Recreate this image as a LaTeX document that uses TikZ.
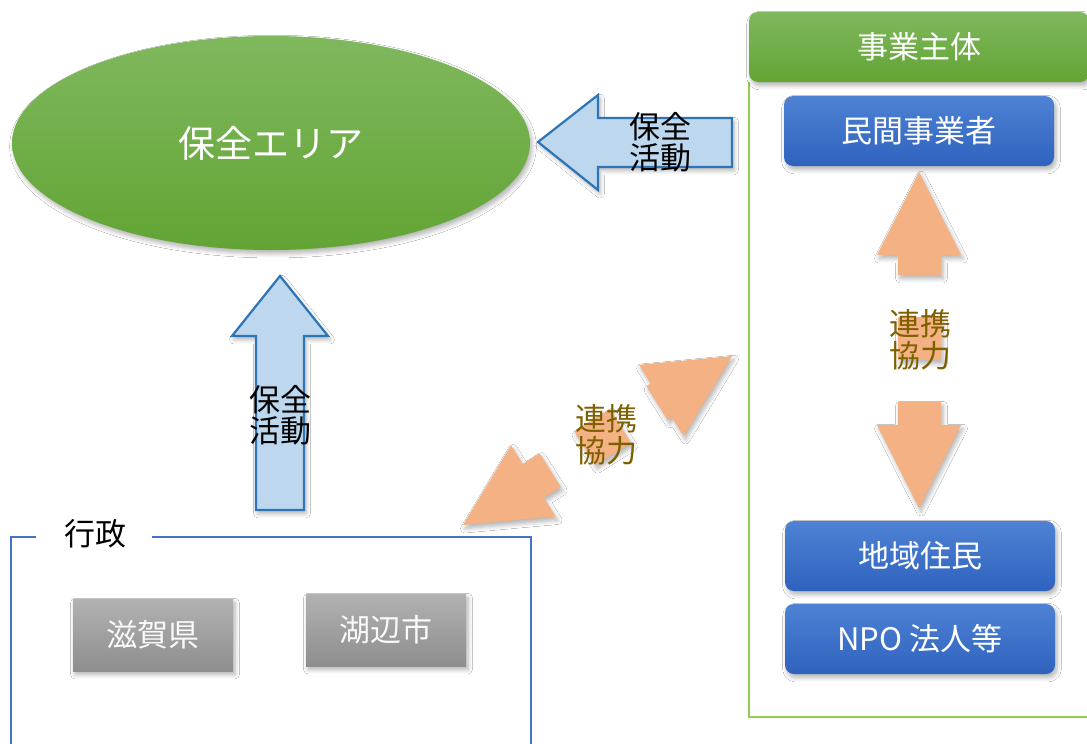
\documentclass[tikz,border=0pt]{standalone}
\usepackage{fontspec}
\setmainfont{Noto Sans CJK JP}
\usetikzlibrary{shapes.geometric,shadows.blur}
\definecolor{gtop}{HTML}{80B85E}
\definecolor{gbot}{HTML}{62A434}
\definecolor{btop}{HTML}{4E82D4}
\definecolor{bbot}{HTML}{2F62BE}
\definecolor{graytop}{HTML}{B2B2B2}
\definecolor{graybot}{HTML}{8E8E8E}
\definecolor{lblue}{HTML}{BDD7EE}
\definecolor{dblue}{HTML}{2E75B6}
\definecolor{frameblue}{HTML}{4472C4}
\definecolor{framegreen}{HTML}{92D050}
\definecolor{orng}{HTML}{F4B183}
\definecolor{gold}{HTML}{7F6000}
\tikzset{
  softshadow/.style={blur shadow={shadow xshift=1pt, shadow yshift=-1.8pt, shadow blur steps=6, shadow opacity=30}},
  greenbox/.style={top color=gtop, bottom color=gbot, text=white, softshadow},
  bluebox/.style={rectangle, rounded corners=4.5pt, top color=btop, bottom color=bbot, draw=none,
     text=white, minimum width=135pt, minimum height=35pt, softshadow,
     font=\fontsize{15.5pt}{17pt}\selectfont},
  graybox/.style={rectangle, top color=graytop, bottom color=graybot, text=white!95!gray,
     minimum width=80pt, minimum height=36pt, softshadow, font=\fontsize{15.5pt}{17pt}\selectfont},
  bluearrow/.style={fill=lblue, draw=dblue, line width=1.1pt, line join=miter, softshadow},
  orangearrow/.style={fill=orng, draw=none, softshadow},
  arrowtext/.style={align=center, font=\fontsize{15.5pt}{15.5pt}\selectfont},
  linktext/.style={align=center, text=gold, font=\fontsize{15.5pt}{16pt}\selectfont},
}
\begin{document}
\begin{tikzpicture}[x=0.5pt,y=-0.5pt]
\useasboundingbox (0,0) rectangle (1087,744);
\fill[white] (0,0) rectangle (1087,744);

% conservation area
\node[ellipse, greenbox, minimum width=259pt, minimum height=107pt, inner sep=0pt,
      font=\fontsize{18.5pt}{20pt}\selectfont] (area) at (271,143) {保全エリア};

% left blue arrow
\draw[bluearrow] (732,118) -- (598,118) -- (598,95) -- (538,142) -- (598,190) -- (598,167) -- (732,167) -- cycle;
\node[arrowtext] (actR) at (660,142) {保全\\活動};

% up blue arrow
\draw[bluearrow] (256,510) -- (256,336) -- (232,336) -- (280,276) -- (328,336) -- (304,336) -- (304,510) -- cycle;
\node[arrowtext] (actL) at (280,415) {保全\\活動};

% administration frame
\draw[frameblue, line width=1.1pt] (152,537) -- (531,537) -- (531,760);
\draw[frameblue, line width=1.1pt] (36,537) -- (11,537) -- (11,760);
\node[font=\fontsize{15.5pt}{17pt}\selectfont] (gov) at (95,534) {行政};
\node[graybox] (shiga) at (153,635) {滋賀県};
\node[graybox] (kohen) at (386,630) {湖辺市};

% business frame
\draw[framegreen, line width=1.1pt] (749,82) -- (749,717) -- (1100,717);
\node[rectangle, rounded corners=4.5pt, greenbox, minimum width=170pt, minimum height=35pt,
      font=\fontsize{15.5pt}{17pt}\selectfont] (biz) at (919,47) {事業主体};
\node[bluebox] (priv) at (919,131) {民間事業者};
\node[bluebox] (resid) at (920,556) {地域住民};
\node[bluebox] (npo) at (920,639) {NPO 法人等};

% vertical orange arrows
\fill[orangearrow] (919,172) -- (961,255) -- (941,255) -- (941,275) -- (898,275) -- (898,255) -- (877,255) -- cycle;
\fill[orangearrow] (898,318) rectangle (941,360);
\fill[orangearrow] (919,508) -- (877,425) -- (898,425) -- (898,402) -- (941,402) -- (941,425) -- (961,425) -- cycle;
\node[linktext] (linkV) at (920,340) {連携\\協力};

% diagonal orange arrows
\fill[orangearrow] (463,525) -- (555.6,516.5) -- (543.9,497.8) -- (560.8,487.1) -- (539.6,453.3) -- (522.7,464.0) -- (511.0,445.3) -- cycle;
\fill[orangearrow] (574.3,431.5) -- (595.5,465.3) -- (631.1,442.9) -- (609.9,409.1) -- cycle;
\fill[orangearrow] (732,356) -- (639.0,364.8) -- (650.7,383.5) -- (646.5,386.2) -- (667.7,420.0) -- (671.9,417.3) -- (683.6,436.0) -- cycle;
\node[linktext] (linkD) at (606,435) {連携\\協力};
\end{tikzpicture}
\end{document}
